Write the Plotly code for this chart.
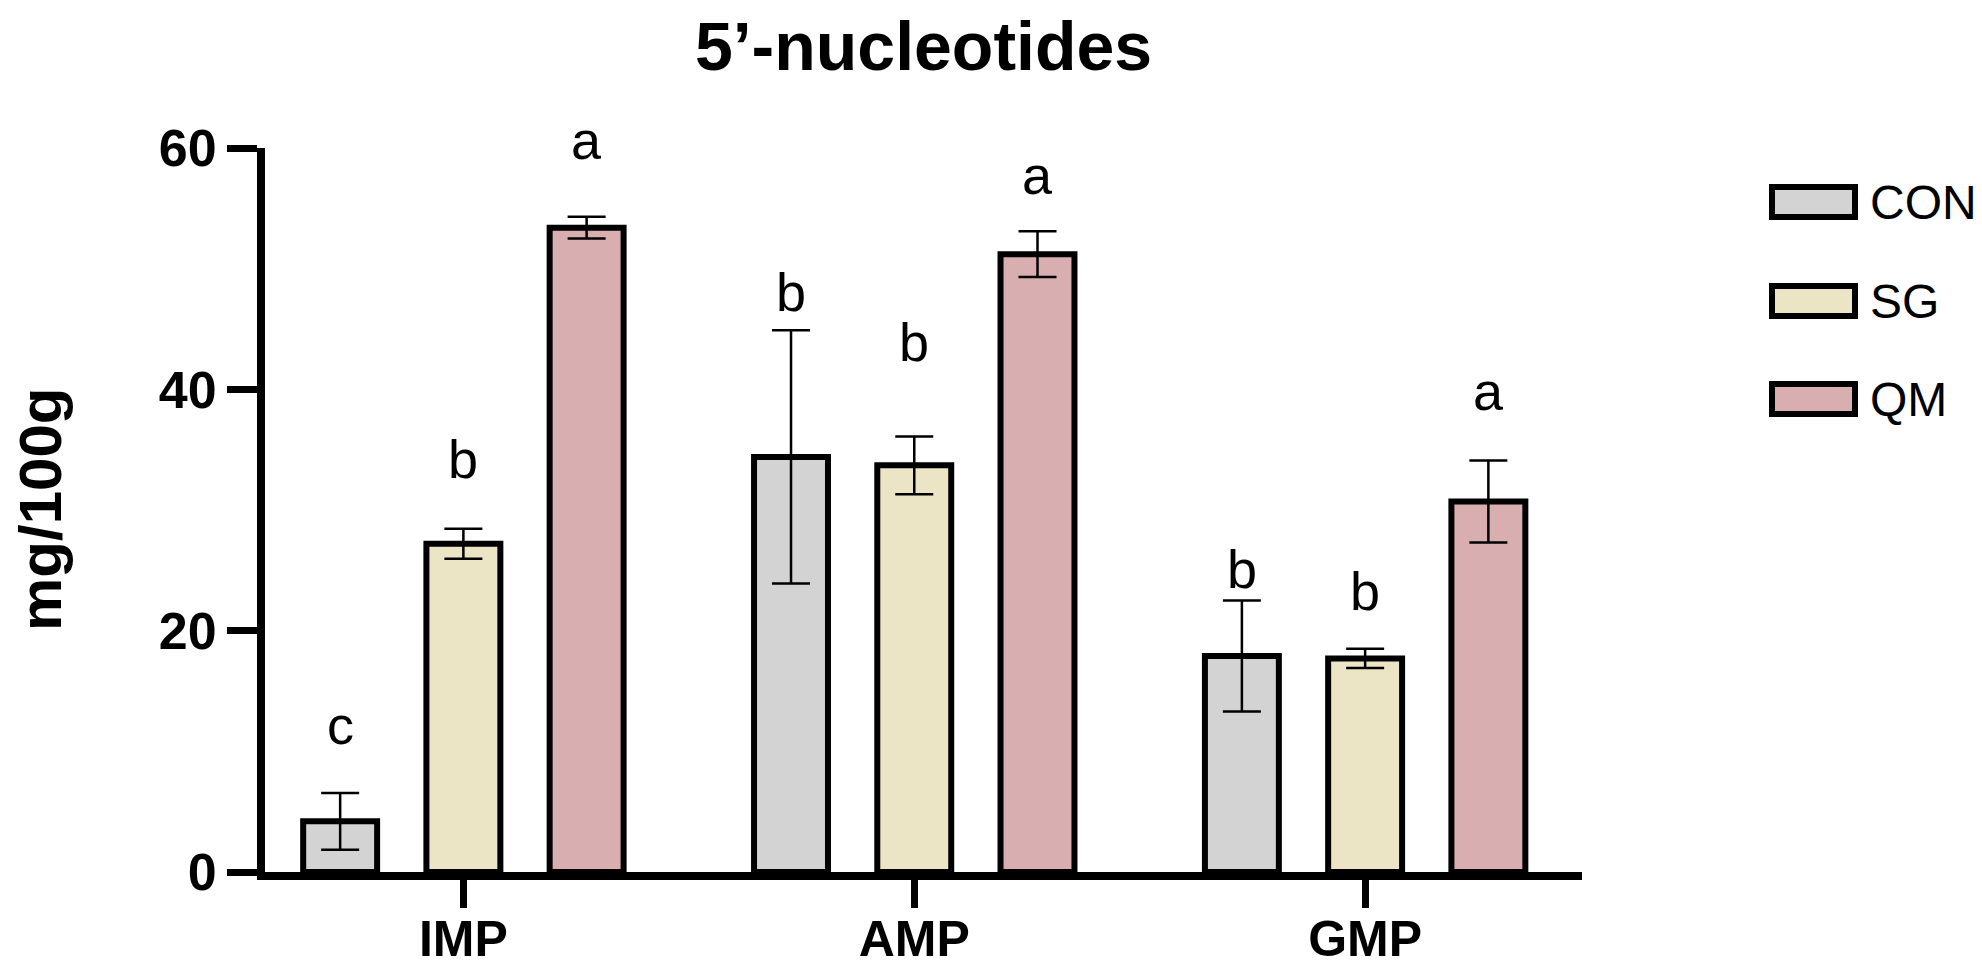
import plotly.graph_objects as go

# 5'-nucleotide content per treatment (mg/100g)
nucleotides = ['IMP', 'AMP', 'GMP']
groups = ['CON', 'SG', 'QM']
con_mean = [4.2, 34.4, 17.9]
sg_mean = [27.2, 33.7, 17.7]
qm_mean = [53.4, 51.2, 30.7]
con_sd = [2.35, 10.5, 4.6]
sg_sd = [1.25, 2.4, 0.8]
qm_sd = [0.9, 1.9, 3.4]

# significance letters and the height they sit at
con_letters = ['c', 'b', 'b']
sg_letters = ['b', 'b', 'b']
qm_letters = ['a', 'a', 'a']
con_letter_y = [12.2, 48.1, 25.1]
sg_letter_y = [34.2, 43.9, 23.3]
qm_letter_y = [60.7, 57.8, 39.9]

y_ticks = [0, 20, 40, 60]

means = [con_mean, sg_mean, qm_mean]
sds = [con_sd, sg_sd, qm_sd]
letters = [con_letters, sg_letters, qm_letters]
letter_y = [con_letter_y, sg_letter_y, qm_letter_y]
fills = ['#D3D3D3', '#EBE5C6', '#D8AEB0']

W, H = 1982, 964
SHIFT_Y = 8  # page pushes the plot down a little
# plot area wanted on screen: x 257..1574, y 148..872
L = 257
T = 148 - SHIFT_Y
R = W - 1574
B = H - (872 - SHIFT_Y)
Y_MAX = 60
BARGAP = 0.18
FONT = 'Liberation Sans, Arial, sans-serif'


def px_to_paper_x(px):
    return (px - L) / (W - L - R)


def px_to_paper_y(py):
    return (H - B - (py - SHIFT_Y)) / (H - T - B)


fig = go.Figure()

for name, mean, sd, fill in zip(groups, means, sds, fills):
    fig.add_trace(go.Bar(
        name=name,
        x=nucleotides,
        y=mean,
        marker=dict(color=fill, line=dict(color='black', width=6)),
        error_y=dict(type='data', array=sd, color='black', thickness=2.5, width=19),
        showlegend=False
    ))

# letters above each bar (paper y so the top one is not hidden above the range)
slot = (1 - BARGAP) / len(groups)
for j, (labs, ys) in enumerate(zip(letters, letter_y)):
    for i, (lab, yv) in enumerate(zip(labs, ys)):
        fig.add_annotation(
            x=i + (j - 1) * slot, y=yv / Y_MAX, xref='x', yref='paper',
            text=lab, showarrow=False, yanchor='middle',
            font=dict(family=FONT, size=54, color='black')
        )

# legend drawn as wide boxes like the original
legend_rows = [202, 301, 399]
for name, fill, cy in zip(groups, fills, legend_rows):
    fig.add_shape(
        type='rect', xref='paper', yref='paper',
        x0=px_to_paper_x(1764), x1=px_to_paper_x(1847),
        y0=px_to_paper_y(cy + 15), y1=px_to_paper_y(cy - 15),
        fillcolor=fill, line=dict(color='black', width=6)
    )
    fig.add_annotation(
        x=px_to_paper_x(1860), y=px_to_paper_y(cy), xref='paper', yref='paper',
        text=name, showarrow=False, xanchor='left', yanchor='middle',
        font=dict(family=FONT, size=48, color='black')
    )

# y axis title placed by hand
fig.add_annotation(
    x=px_to_paper_x(32), y=0.5, xref='paper', yref='paper',
    text='mg/100g', showarrow=False, textangle=-90,
    xanchor='center', yanchor='middle',
    font=dict(family=FONT, size=60, color='black', weight='bold')
)

fig.update_layout(
    width=W, height=H,
    margin=dict(l=L, r=R, t=T, b=B, autoexpand=False),
    barmode='group',
    bargap=BARGAP,
    bargroupgap=0.4,
    plot_bgcolor='white',
    paper_bgcolor='white',
    title=dict(
        text='5’-nucleotides', x=0.5, xref='paper', xanchor='center',
        y=1 - 38 / H, yref='container', yanchor='middle',
        font=dict(family=FONT, size=68, color='black', weight='bold')
    ),
    showlegend=False
)

fig.update_xaxes(
    range=[-0.44, 2.481],
    automargin=False,
    showline=True, linewidth=8, linecolor='black',
    ticks='outside', ticklen=28, tickwidth=7, tickcolor='black',
    ticklabelstandoff=-12,
    tickfont=dict(family=FONT, size=50, color='black', weight='bold'),
    showgrid=False, zeroline=False
)

fig.update_yaxes(
    range=[0, Y_MAX],
    tickvals=y_ticks,
    automargin=False,
    showline=True, linewidth=8, linecolor='black',
    ticks='outside', ticklen=30, tickwidth=7, tickcolor='black',
    tickfont=dict(family=FONT, size=52, color='black', weight='bold'),
    showgrid=False, zeroline=False
)

fig.write_html('out.html')
